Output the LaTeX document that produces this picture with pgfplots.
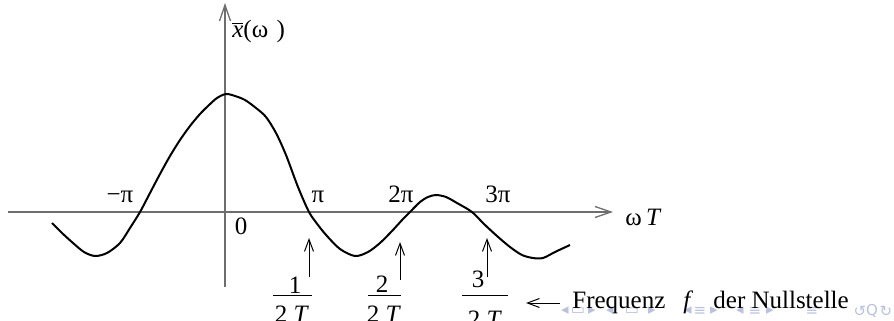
\documentclass[border=0pt]{standalone}
\usepackage{fontspec}
\setmainfont{Liberation Serif}
\newfontfamily\symfont{DejaVu Sans}
\usepackage{pgfplots}
\pgfplotsset{compat=1.18}
\usetikzlibrary{arrows.meta}
\definecolor{axisgray}{RGB}{110,110,110}
\definecolor{navblue}{RGB}{185,193,222}

\begin{document}
\begin{tikzpicture}[every node/.style={font=\fontsize{12.5}{15}\selectfont, inner sep=0pt},
  nav/.style={text=navblue, font=\symfont\fontsize{7.5}{8}\selectfont}]
\begin{axis}[
  scale only axis,
  width=447pt, height=160.5pt,
  xmin=0, xmax=894, ymin=-109, ymax=212,
  hide axis, clip=false,
]
% coordinate axes
\draw[axisgray, line width=0.65pt, -{Straight Barb[length=8pt,width=5.5pt]}]
  (axis cs:8,0) -- (axis cs:613,0);
\draw[axisgray, line width=0.65pt, -{Straight Barb[length=8pt,width=5.5pt]}]
  (axis cs:225,-75) -- (axis cs:225,209);

% spectrum
\addplot[black, line width=1pt, smooth, tension=0.5] coordinates {
  (52,-11) (62,-21) (73,-31) (84,-40) (95,-44) (107,-41) (120,-31) (130,-16)
  (140,0) (150,19) (160,38) (170,56) (180,72) (190,86) (200,98) (208,106)
  (217,114) (226,118) (235,116) (245,112) (256,104) (266,95) (276,79)
  (286,57) (298,25) (309,0) (318,-13) (327,-24) (340,-37) (355,-44)
  (368,-40) (380,-31) (392,-19) (403,-7) (410,0) (420,10) (428,15) (436,17)
  (446,15) (457,9) (472,0) (484,-12) (497,-24) (510,-35) (522,-43) (533,-46)
  (543,-46) (555,-40) (570,-33)
};

% axis labels
\node[anchor=base west] at (axis cs:232,174) {$\overline{\hbox{\itshape x}}$(ω\,\,)};
\node[anchor=base west] at (axis cs:625,-13) {ω\,\textit{T}};

% multiples of pi
\node[anchor=base] at (axis cs:120,10) {−π};
\node[anchor=base] at (axis cs:318,10) {π};
\node[anchor=base] at (axis cs:401,10) {2π};
\node[anchor=base] at (axis cs:498,10) {3π};
\node[anchor=base] at (axis cs:241,-23) {0};

% zero frequencies
\draw[black, line width=0.5pt, -{Straight Barb[length=6pt,width=4.5pt]}]
  (axis cs:309,-65) -- (axis cs:309,-26);
\draw[black, line width=0.5pt, -{Straight Barb[length=6pt,width=4.5pt]}]
  (axis cs:400,-68) -- (axis cs:400,-30);
\draw[black, line width=0.5pt, -{Straight Barb[length=6pt,width=4.5pt]}]
  (axis cs:487,-65) -- (axis cs:487,-26);

\node[anchor=base] at (axis cs:295,-81) {1};
\draw[black, line width=0.5pt] (axis cs:273,-83) -- (axis cs:312,-83);
\node[anchor=base] at (axis cs:292,-110) {2 \textit{T}};

\node[anchor=base] at (axis cs:382,-80) {2};
\draw[black, line width=0.5pt] (axis cs:368,-83) -- (axis cs:401,-83);
\node[anchor=base] at (axis cs:384,-110) {2 \textit{T}};

\node[anchor=base] at (axis cs:478,-75) {3};
\draw[black, line width=0.5pt] (axis cs:462,-83) -- (axis cs:508,-83);
\node[anchor=base] at (axis cs:485,-115) {2 \textit{T}};

% navigation symbols
\node[nav] at (axis cs:565,-99) {◂};
\node[nav] at (axis cs:578,-99) {▭};
\node[nav] at (axis cs:592,-99) {▸};
\node[nav] at (axis cs:610,-99) {◂};
\node[nav] at (axis cs:632,-99) {▭};
\node[nav] at (axis cs:652,-99) {▸};
\node[nav] at (axis cs:688,-99) {◂};
\node[nav] at (axis cs:700,-99) {≡};
\node[nav] at (axis cs:714,-99) {▸};
\node[nav] at (axis cs:740,-99) {◂};
\node[nav] at (axis cs:755,-99) {≡};
\node[nav] at (axis cs:770,-99) {▸};
\node[nav] at (axis cs:812,-99) {≡};
\node[nav] at (axis cs:860,-99) {↺};
\node[nav] at (axis cs:872,-99) {Q};
\node[nav] at (axis cs:886,-99) {↻};

\draw[black, line width=0.5pt, -{Straight Barb[length=6pt,width=4.5pt]}]
  (axis cs:560,-91) -- (axis cs:526,-91);
\node[anchor=base west] at (axis cs:572,-96) {Frequenz};
\node[anchor=base west] at (axis cs:683,-96) {\textit{f}};
\node[anchor=base west] at (axis cs:713,-96) {der Nullstelle};
\end{axis}
\pgfresetboundingbox
\path[use as bounding box] (current axis.south west) rectangle (current axis.north east);
\end{tikzpicture}
\end{document}
